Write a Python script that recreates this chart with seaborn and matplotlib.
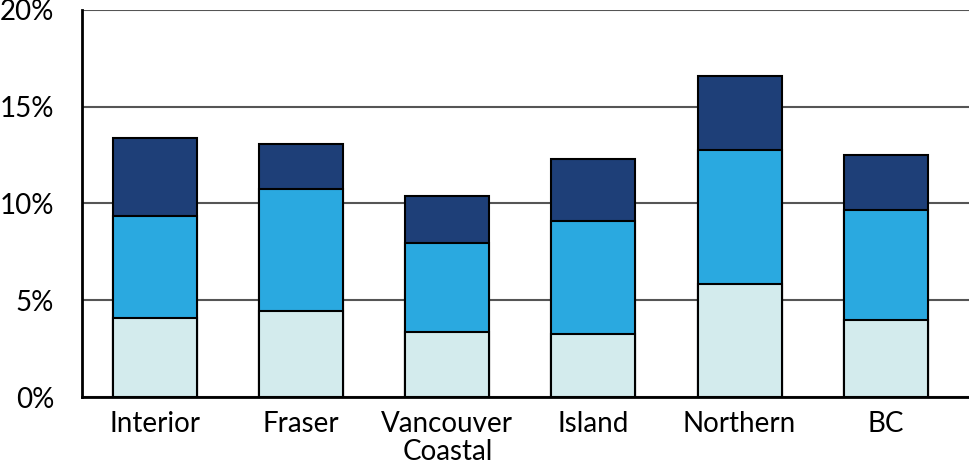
import pandas as pd
import seaborn as sns
import matplotlib.pyplot as plt
from matplotlib.ticker import FuncFormatter

# Regions and stacked segment values (percent)
regions = ['Interior', 'Fraser', 'Vancouver\nCoastal', 'Island', 'Northern', 'BC']
bottom_vals = [4.07, 4.46, 3.38, 3.27, 5.86, 3.98]
middle_vals = [5.30, 6.31, 4.59, 5.81, 6.92, 5.70]
top_vals = [4.03, 2.32, 2.42, 3.22, 3.82, 2.81]

colors = ['#D3EBED', '#2AA9E0', '#1E3F78']

df = pd.DataFrame({'Region': regions, 'Bottom': bottom_vals,
                   'Middle': middle_vals, 'Top': top_vals})
df['cum1'] = df['Bottom']
df['cum2'] = df['Bottom'] + df['Middle']
df['cum3'] = df['cum2'] + df['Top']

sns.set_style('white')
plt.rcParams['font.family'] = ['Lato', 'DejaVu Sans']

fig = plt.figure(figsize=(9.69, 4.73), dpi=100)
ax = fig.add_axes([82 / 969, 1 - 397 / 473, 887 / 969, 387 / 473])

# draw tallest stack first, then cover with lower cumulative layers
for col, c in zip(['cum3', 'cum2', 'cum1'], colors[::-1]):
    sns.barplot(data=df, x='Region', y=col, color=c, width=0.575,
                edgecolor='black', linewidth=1.5, ax=ax, zorder=3,
                saturation=1)

ax.set_ylim(0, 20)
ax.set_xlim(-0.5, 5.57)
ax.set_yticks([0, 5, 10, 15, 20])
ax.yaxis.set_major_formatter(FuncFormatter(lambda v, p: f'{v:.0f}%'))
ax.yaxis.grid(True, color='#555555', linewidth=1.5, zorder=0)
ax.set_axisbelow(True)
ax.set_xlabel('')
ax.set_ylabel('')
ax.tick_params(axis='both', length=0, labelsize=20, colors='black')
ax.tick_params(axis='y', pad=20)
ax.tick_params(axis='x', pad=10)
for lbl in ax.get_xticklabels():
    lbl.set_linespacing(1.08)
for s in ['top', 'right']:
    ax.spines[s].set_visible(False)
for s in ['left', 'bottom']:
    ax.spines[s].set_color('black')
    ax.spines[s].set_linewidth(2)

fig.savefig('out.png', dpi=100)
